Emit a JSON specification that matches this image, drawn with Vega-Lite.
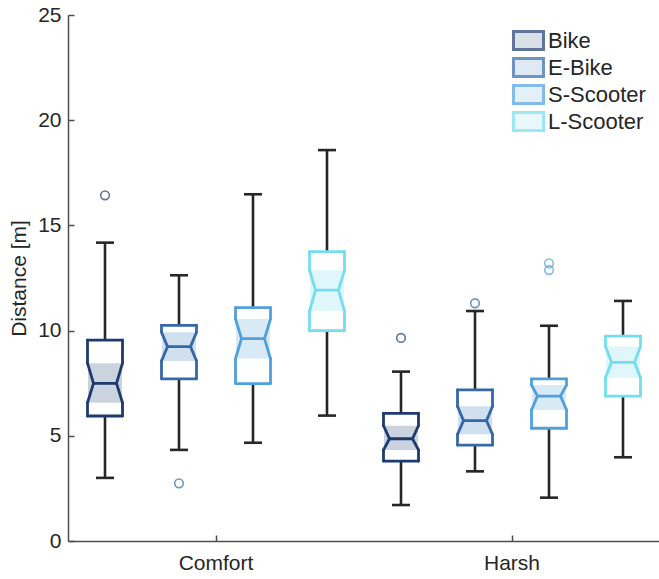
{
  "$schema": "https://vega.github.io/schema/vega-lite/v6.json",
  "background": "white",
  "padding": {"left": 8, "top": 4, "right": 0, "bottom": 0},
  "width": 592,
  "height": 526,
  "data": {
    "values": [
      {"box": "Comfort|Bike", "condition": "Comfort", "vehicle": "Bike", "wlo": 3.0, "q1": 5.94, "nlo": 6.57, "median": 7.49, "nhi": 8.45, "q3": 9.55, "whi": 14.18, "outliers": [16.43]},
      {"box": "Comfort|E-Bike", "condition": "Comfort", "vehicle": "E-Bike", "wlo": 4.33, "q1": 7.71, "nlo": 8.56, "median": 9.24, "nhi": 9.92, "q3": 10.25, "whi": 12.63, "outliers": [2.74]},
      {"box": "Comfort|S-Scooter", "condition": "Comfort", "vehicle": "S-Scooter", "wlo": 4.67, "q1": 7.48, "nlo": 8.67, "median": 9.62, "nhi": 10.55, "q3": 11.09, "whi": 16.48, "outliers": []},
      {"box": "Comfort|L-Scooter", "condition": "Comfort", "vehicle": "L-Scooter", "wlo": 5.96, "q1": 10.0, "nlo": 10.93, "median": 11.92, "nhi": 12.87, "q3": 13.75, "whi": 18.58, "outliers": []},
      {"box": "Harsh|Bike", "condition": "Harsh", "vehicle": "Bike", "wlo": 1.71, "q1": 3.8, "nlo": 4.33, "median": 4.86, "nhi": 5.48, "q3": 6.07, "whi": 8.05, "outliers": [9.65]},
      {"box": "Harsh|E-Bike", "condition": "Harsh", "vehicle": "E-Bike", "wlo": 3.31, "q1": 4.56, "nlo": 5.07, "median": 5.72, "nhi": 6.4, "q3": 7.18, "whi": 10.93, "outliers": [11.3]},
      {"box": "Harsh|S-Scooter", "condition": "Harsh", "vehicle": "S-Scooter", "wlo": 2.06, "q1": 5.36, "nlo": 6.23, "median": 6.89, "nhi": 7.41, "q3": 7.71, "whi": 10.23, "outliers": [12.88, 13.2]},
      {"box": "Harsh|L-Scooter", "condition": "Harsh", "vehicle": "L-Scooter", "wlo": 3.98, "q1": 6.89, "nlo": 7.76, "median": 8.49, "nhi": 9.24, "q3": 9.74, "whi": 11.41, "outliers": []}
    ]
  },
  "encoding": {
    "x": {
      "field": "box", "type": "nominal",
      "sort": ["Comfort|Bike", "Comfort|E-Bike", "Comfort|S-Scooter", "Comfort|L-Scooter", "Harsh|Bike", "Harsh|E-Bike", "Harsh|S-Scooter", "Harsh|L-Scooter"],
      "scale": {"paddingInner": 0, "paddingOuter": 0},
      "axis": {
        "title": null,
        "values": ["Comfort|S-Scooter", "Harsh|S-Scooter"],
        "bandPosition": 0,
        "labelExpr": "split(datum.label, '|')[0]",
        "labelAngle": 0,
        "labelAlign": "center",
        "labelBaseline": "top",
        "labelOffset": -37,
        "tickSize": -6,
        "labelPadding": 17,
        "labelFontSize": 21,
        "labelFont": "Liberation Sans",
        "labelColor": "#262626",
        "domainColor": "#4d4d4d",
        "tickColor": "#4d4d4d",
        "domainWidth": 1.5,
        "tickWidth": 1.5
      }
    }
  },
  "layer": [
    {
      "mark": {"type": "rule", "color": "#262626", "strokeWidth": 2.6},
      "encoding": {
        "y": {"field": "wlo", "type": "quantitative", "title": "Distance [m]", "scale": {"domain": [0, 25]}},
        "y2": {"field": "whi"}
      }
    },
    {
      "mark": {"type": "rule", "color": "#262626", "strokeWidth": 2.6, "xOffset": -9, "x2Offset": 9},
      "encoding": {
        "x2": {"field": "box"},
        "y": {"field": "wlo", "type": "quantitative", "title": "Distance [m]", "scale": {"domain": [0, 25]}}
      }
    },
    {
      "mark": {"type": "rule", "color": "#262626", "strokeWidth": 2.6, "xOffset": -9, "x2Offset": 9},
      "encoding": {
        "x2": {"field": "box"},
        "y": {"field": "whi", "type": "quantitative", "title": "Distance [m]", "scale": {"domain": [0, 25]}}
      }
    },
    {
      "mark": {"type": "bar", "color": "white", "width": 35},
      "encoding": {
        "y": {"field": "q1", "type": "quantitative", "title": "Distance [m]", "scale": {"domain": [0, 25]}},
        "y2": {"field": "q3"}
      }
    },
    {
      "mark": {"type": "bar", "width": 34},
      "encoding": {
        "y": {"field": "nlo", "type": "quantitative", "title": "Distance [m]", "scale": {"domain": [0, 25]}},
        "y2": {"field": "nhi"},
        "fill": {"field": "vehicle", "type": "nominal", "scale": {"domain": ["Bike", "E-Bike", "S-Scooter", "L-Scooter"], "range": ["#cbd3de", "#d1e0ee", "#d8eaf6", "#dff6fa"]}, "legend": {"title": null}}
      }
    },
    {
      "mark": {"type": "rule", "strokeWidth": 2.8, "strokeCap": "round", "xOffset": -17.5, "x2Offset": 17.5},
      "encoding": {
        "x2": {"field": "box"},
        "y": {"field": "q3", "type": "quantitative", "title": "Distance [m]", "scale": {"domain": [0, 25]}},
        "stroke": {"field": "vehicle", "type": "nominal", "scale": {"domain": ["Bike", "E-Bike", "S-Scooter", "L-Scooter"], "range": ["#1d3b6e", "#3468a8", "#50a0dc", "#72def0"]}, "legend": {"title": null}}
      }
    },
    {
      "mark": {"type": "rule", "strokeWidth": 2.8, "strokeCap": "round", "xOffset": -17.5, "x2Offset": 17.5},
      "encoding": {
        "x2": {"field": "box"},
        "y": {"field": "q1", "type": "quantitative", "title": "Distance [m]", "scale": {"domain": [0, 25]}},
        "stroke": {"field": "vehicle", "type": "nominal", "legend": {"title": null}}
      }
    },
    {
      "mark": {"type": "rule", "strokeWidth": 2.8, "strokeCap": "round", "xOffset": -11.5, "x2Offset": 11.5},
      "encoding": {
        "x2": {"field": "box"},
        "y": {"field": "median", "type": "quantitative", "title": "Distance [m]", "scale": {"domain": [0, 25]}},
        "stroke": {"field": "vehicle", "type": "nominal", "legend": {"title": null}}
      }
    },
    {
      "mark": {"type": "rule", "strokeWidth": 2.8, "strokeCap": "round", "xOffset": -17.5},
      "encoding": {
        "y": {"field": "q3", "type": "quantitative", "title": "Distance [m]", "scale": {"domain": [0, 25]}},
        "y2": {"field": "nhi"},
        "stroke": {"field": "vehicle", "type": "nominal", "legend": {"title": null}}
      }
    },
    {
      "mark": {"type": "rule", "strokeWidth": 2.8, "strokeCap": "round", "xOffset": 17.5},
      "encoding": {
        "y": {"field": "q3", "type": "quantitative", "title": "Distance [m]", "scale": {"domain": [0, 25]}},
        "y2": {"field": "nhi"},
        "stroke": {"field": "vehicle", "type": "nominal", "legend": {"title": null}}
      }
    },
    {
      "mark": {"type": "rule", "strokeWidth": 2.8, "strokeCap": "round", "xOffset": -17.5},
      "encoding": {
        "y": {"field": "nlo", "type": "quantitative", "title": "Distance [m]", "scale": {"domain": [0, 25]}},
        "y2": {"field": "q1"},
        "stroke": {"field": "vehicle", "type": "nominal", "legend": {"title": null}}
      }
    },
    {
      "mark": {"type": "rule", "strokeWidth": 2.8, "strokeCap": "round", "xOffset": 17.5},
      "encoding": {
        "y": {"field": "nlo", "type": "quantitative", "title": "Distance [m]", "scale": {"domain": [0, 25]}},
        "y2": {"field": "q1"},
        "stroke": {"field": "vehicle", "type": "nominal", "legend": {"title": null}}
      }
    },
    {
      "mark": {"type": "rule", "strokeWidth": 2.8, "strokeCap": "round", "xOffset": -17.5, "x2Offset": -11.5},
      "encoding": {
        "x2": {"field": "box"},
        "y": {"field": "nhi", "type": "quantitative", "title": "Distance [m]", "scale": {"domain": [0, 25]}},
        "y2": {"field": "median"},
        "stroke": {"field": "vehicle", "type": "nominal", "legend": {"title": null}}
      }
    },
    {
      "mark": {"type": "rule", "strokeWidth": 2.8, "strokeCap": "round", "xOffset": 17.5, "x2Offset": 11.5},
      "encoding": {
        "x2": {"field": "box"},
        "y": {"field": "nhi", "type": "quantitative", "title": "Distance [m]", "scale": {"domain": [0, 25]}},
        "y2": {"field": "median"},
        "stroke": {"field": "vehicle", "type": "nominal", "legend": {"title": null}}
      }
    },
    {
      "mark": {"type": "rule", "strokeWidth": 2.8, "strokeCap": "round", "xOffset": -11.5, "x2Offset": -17.5},
      "encoding": {
        "x2": {"field": "box"},
        "y": {"field": "median", "type": "quantitative", "title": "Distance [m]", "scale": {"domain": [0, 25]}},
        "y2": {"field": "nlo"},
        "stroke": {"field": "vehicle", "type": "nominal", "legend": {"title": null}}
      }
    },
    {
      "mark": {"type": "rule", "strokeWidth": 2.8, "strokeCap": "round", "xOffset": 11.5, "x2Offset": 17.5},
      "encoding": {
        "x2": {"field": "box"},
        "y": {"field": "median", "type": "quantitative", "title": "Distance [m]", "scale": {"domain": [0, 25]}},
        "y2": {"field": "nlo"},
        "stroke": {"field": "vehicle", "type": "nominal", "legend": {"title": null}}
      }
    },
    {
      "transform": [{"flatten": ["outliers"]}],
      "mark": {"type": "point", "shape": "circle", "filled": false, "size": 75, "strokeWidth": 1.6},
      "encoding": {
        "y": {"field": "outliers", "type": "quantitative", "title": "Distance [m]", "scale": {"domain": [0, 25]}},
        "stroke": {"field": "vehicle", "type": "nominal", "legend": {"title": null}}
      }
    }
  ],
  "config": {
    "view": {"stroke": null},
    "axis": {"grid": false},
    "axisY": {
      "tickCount": 5,
      "tickSize": -6,
      "labelPadding": 13,
      "labelFontSize": 21,
      "labelFont": "Liberation Sans",
      "labelColor": "#262626",
      "titleFontSize": 21,
      "titleFont": "Liberation Sans",
      "titleFontWeight": "normal",
      "titleColor": "#262626",
      "titlePadding": 8,
      "domainColor": "#4d4d4d",
      "tickColor": "#4d4d4d",
      "domainWidth": 1.5,
      "tickWidth": 1.5
    },
    "legend": {
      "orient": "top-right",
      "symbolType": "M-1.5,-0.9H1.5V0.9H-1.5Z",
      "symbolSize": 400,
      "symbolStrokeWidth": 3,
      "labelFontSize": 22,
      "labelFont": "Liberation Sans",
      "labelColor": "#262626",
      "labelOffset": 8,
      "rowPadding": -4,
      "offset": 14,
      "padding": 0
    }
  }
}
